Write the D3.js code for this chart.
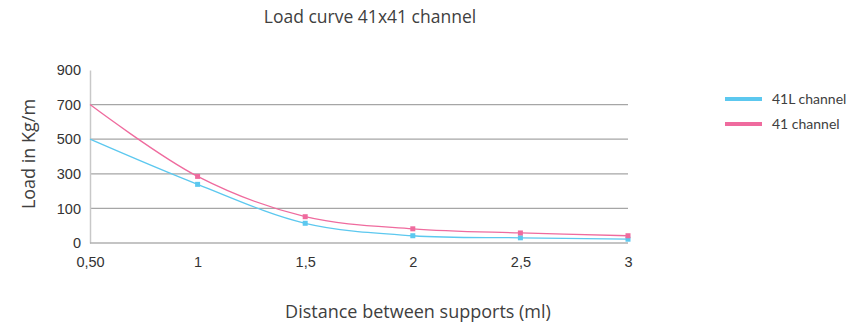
<!DOCTYPE html>
<html><head><meta charset="utf-8">
<script src="https://cdn.jsdelivr.net/npm/d3@7"></script>
<style>body{margin:0;background:#fff;}svg{display:block;}</style>
</head><body>
<svg id="c" width="851" height="327"></svg>
<script>
const categories = ["0,50","1","1,5","2","2,5","3"];
const series41L = [500, 239, 57, 21, 15, 11];
const series41 = [700, 285, 76, 41, 29, 21];
const yTicks = [0, 100, 300, 500, 700, 900];
const seriesNames = ["41L channel", "41 channel"];
const colors = ["#5cc8ef", "#ef6b9e"];

(function(){
const svg = d3.select("#c");
const mL = 90, mR = 628, mT = 70, mB = 243;
const x = d3.scalePoint().domain(categories).range([mL, mR]);
const y = d3.scaleLinear().domain(yTicks).range(yTicks.map((d,i)=> mB - i*(mB-mT)/(yTicks.length-1)));

// gridlines
svg.append("g").selectAll("line").data(yTicks.filter(d=>d>0 && d<900)).join("line")
  .attr("x1", mL).attr("x2", mR).attr("y1", d=>y(d)).attr("y2", d=>y(d))
  .attr("stroke", "#a6a6a6").attr("stroke-width", 1.2);

// y axis
const yAxis = d3.axisLeft(y).tickValues(yTicks).tickSize(0).tickPadding(9);
const gy = svg.append("g").attr("transform", `translate(${mL},0)`).call(yAxis);
gy.select(".domain").attr("stroke", "#c8c8c8").attr("stroke-width", 1.5);
gy.selectAll("text").attr("font-family", "Liberation Sans, Arial, sans-serif").attr("font-size", 14.5).attr("fill", "#333");

// x axis
const xAxis = d3.axisBottom(x).tickSize(0).tickPadding(14);
const gx = svg.append("g").attr("transform", `translate(0,${mB})`).call(xAxis);
gx.select(".domain").attr("stroke", "#b0b0b0").attr("stroke-width", 1.5).attr("d", `M${mL},0H${mR}`);
gx.selectAll("text").attr("font-family", "Liberation Sans, Arial, sans-serif").attr("font-size", 14.5).attr("fill", "#333");

// lines
const line = d3.line().x((d,i)=>x(categories[i])).y(d=>y(d)).curve(d3.curveCatmullRom.alpha(0.5));
[series41L, series41].forEach((s, k) => {
  svg.append("path").datum(s).attr("d", line).attr("fill", "none")
    .attr("stroke", colors[k]).attr("stroke-width", 1.3);
  svg.append("g").selectAll("rect").data(s.slice(1)).join("rect")
    .attr("x", (d,i)=>x(categories[i+1])-2.5).attr("y", d=>y(d)-2.5)
    .attr("width", 5).attr("height", 5).attr("fill", colors[k]);
});

// titles
const textFont = "'Open Sans', 'Noto Sans', sans-serif";
svg.append("text").attr("x", 370).attr("y", 23).attr("text-anchor", "middle")
  .attr("font-family", textFont).attr("font-size", 17.5).attr("fill", "#404040")
  .text("Load curve 41x41 channel");
svg.append("text").attr("x", 418).attr("y", 318).attr("text-anchor", "middle")
  .attr("font-family", textFont).attr("font-size", 18).attr("fill", "#404040")
  .text("Distance between supports (ml)");
svg.append("text").attr("transform", "translate(35,154) rotate(-90)").attr("text-anchor", "middle")
  .attr("font-family", textFont).attr("font-size", 18).attr("fill", "#404040")
  .text("Load in Kg/m");

// legend
const lg = svg.append("g");
seriesNames.forEach((n, i) => {
  const ly = 99 + i*25;
  lg.append("line").attr("x1", 725).attr("x2", 762).attr("y1", ly).attr("y2", ly)
    .attr("stroke", colors[i]).attr("stroke-width", 4);
  lg.append("text").attr("x", 772).attr("y", ly + 5).attr("font-family", "Lato, sans-serif")
    .attr("font-size", 14).attr("fill", "#404040").text(n);
});
})();
</script>
</body></html>
